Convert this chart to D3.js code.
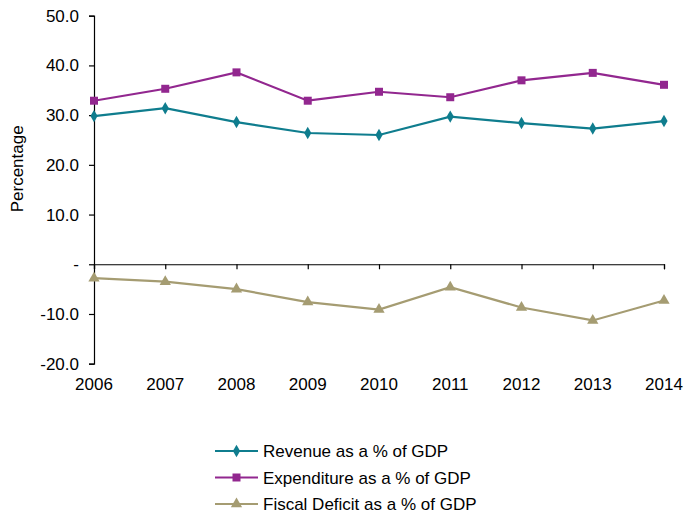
<!DOCTYPE html>
<html>
<head>
<meta charset="utf-8">
<script src="https://cdn.jsdelivr.net/npm/d3@7"></script>
<style>
  body { margin: 0; background: #fff; }
  text { font-family: "Liberation Sans", Arial, sans-serif; fill: #000; }
</style>
</head>
<body>
<svg id="chart"></svg>
<script>
// Chart data

const years = [2006, 2007, 2008, 2009, 2010, 2011, 2012, 2013, 2014];
const revenue = [29.8, 31.4, 28.6, 26.4, 26.0, 29.7, 28.4, 27.3, 28.8];
const expenditure = [32.9, 35.3, 38.6, 32.9, 34.7, 33.6, 37.0, 38.5, 36.1];
const deficit = [-2.8, -3.5, -5.0, -7.6, -9.1, -4.6, -8.7, -11.3, -7.3];
const yTicks = [-20, -10, 0, 10, 20, 30, 40, 50];

const seriesNames = ["Revenue as a % of GDP", "Expenditure as a % of GDP", "Fiscal Deficit as a % of GDP"];
const seriesColors = ["#0F7D8E", "#92278F", "#A59C72"];
const seriesSymbols = [d3.symbolDiamond, d3.symbolSquare, d3.symbolTriangle];
const seriesSizes = [45, 64, 55];

const width = 684;
const height = 515;
const fontSize = "17px";

const svg = d3.select("#chart")
  .attr("width", width)
  .attr("height", height);

const x = d3.scaleLinear()
  .domain([years[0], years[years.length - 1]])
  .range([94, 664]);

const y = d3.scaleLinear()
  .domain([-20, 50])
  .range([363.7, 15.7]);

// y axis (hyphen for negatives, "-" for zero like the original)

const yAxis = svg.append("g")
  .attr("transform", "translate(" + x(years[0]) + ",0)")
  .call(d3.axisLeft(y)
    .tickValues(yTicks)
    .tickSize(5)
    .tickPadding(10)
    .tickFormat((d) => d === 0 ? "-" : d.toFixed(1)));

yAxis.selectAll("text").style("font-size", fontSize);

// x axis sits on zero, labels go below the plot

svg.append("g")
  .attr("transform", "translate(0," + y(0) + ")")
  .call(d3.axisBottom(x)
    .tickValues(years)
    .tickSize(5)
    .tickFormat(""));

svg.selectAll(".domain, .tick line").attr("stroke", "#000").attr("stroke-width", 1.2);

svg.append("g").selectAll("text")
  .data(years)
  .enter()
  .append("text")
  .attr("x", (d) => x(d))
  .attr("y", y(-20) + 26)
  .attr("text-anchor", "middle")
  .style("font-size", fontSize)
  .text((d) => d);

svg.append("text")
  .attr("transform", "translate(23," + y(19.2) + ") rotate(-90)")
  .attr("text-anchor", "middle")
  .style("font-size", fontSize)
  .text("Percentage");

// series

const allSeries = [revenue, expenditure, deficit];

const line = d3.line()
  .x((d, i) => x(years[i]))
  .y((d) => y(d));

allSeries.forEach((values, s) => {
  svg.append("path")
    .datum(values)
    .attr("fill", "none")
    .attr("stroke", seriesColors[s])
    .attr("stroke-width", 2.2)
    .attr("d", line);

  svg.append("g").selectAll("path")
    .data(values)
    .enter()
    .append("path")
    .attr("d", d3.symbol().type(seriesSymbols[s]).size(seriesSizes[s]))
    .attr("transform", (d, i) => "translate(" + x(years[i]) + "," + y(d) + ")")
    .attr("fill", seriesColors[s]);
});

// legend

const legend = svg.append("g")
  .attr("transform", "translate(215,451)");

seriesNames.forEach((name, s) => {
  const row = legend.append("g")
    .attr("transform", "translate(0," + (s * 26.5) + ")");
  row.append("line")
    .attr("x1", 0).attr("x2", 43)
    .attr("stroke", seriesColors[s])
    .attr("stroke-width", 2.2);
  row.append("path")
    .attr("d", d3.symbol().type(seriesSymbols[s]).size(seriesSizes[s]))
    .attr("transform", "translate(21.5,0)")
    .attr("fill", seriesColors[s]);
  row.append("text")
    .attr("x", 48)
    .attr("y", 6)
    .style("font-size", fontSize)
    .text(name);
});
</script>
</body>
</html>
